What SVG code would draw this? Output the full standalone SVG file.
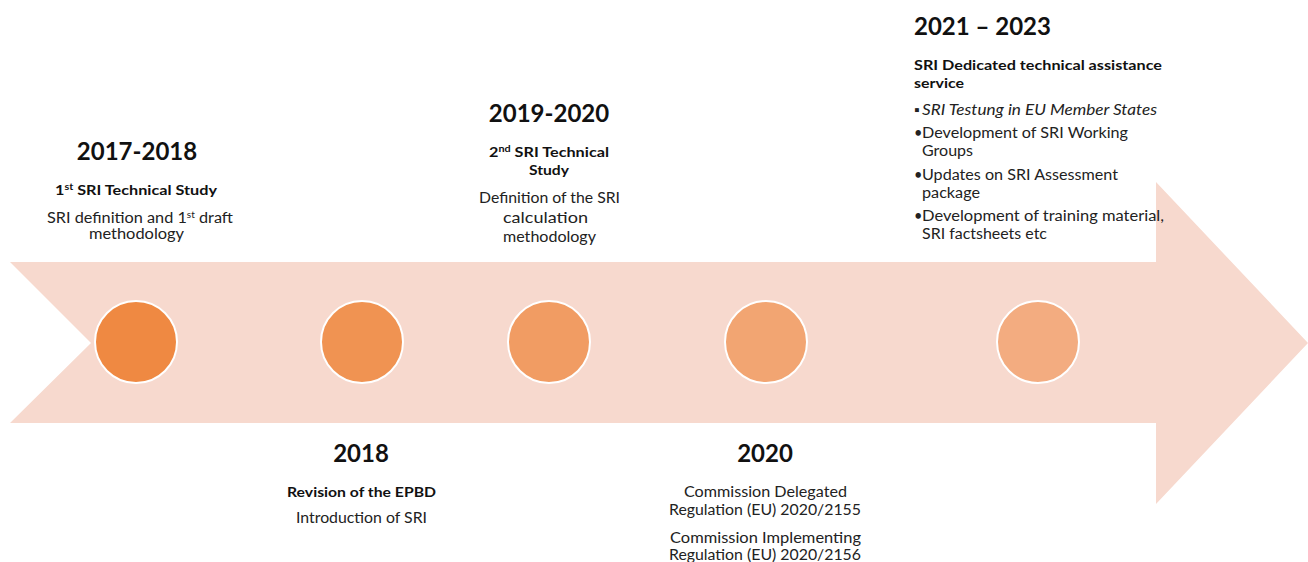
<svg xmlns="http://www.w3.org/2000/svg" width="1308" height="562" viewBox="0 0 1308 562">
  <style>
    text { font-family: Lato, "Liberation Sans", sans-serif; fill: #111; }
    .year { font-size: 24px; font-weight: 700; text-anchor: middle; }
    .head { font-size: 13.5px; font-weight: 700; }
    .body { font-size: 14.5px; fill: #222; }
    .mid { font-size: 15px; }
    .dot { stroke: #ffffff; stroke-width: 2; }
    .sup { font-size: 9px; }
  </style>

  <!-- timeline band with notched tail and arrow head -->
  <g id="timeline-arrow">
    <polygon points="10,262 1156,262 1156,182 1308,343 1156,504 1156,423 10,423 91,343" fill="#F7D9CE"/>
  </g>

  <!-- milestone dots, lightening towards the head -->
  <g id="milestones">
    <circle class="dot" cx="136" cy="342" r="41" fill="#EF8942"/>
    <circle class="dot" cx="362" cy="342" r="41" fill="#F09352"/>
    <circle class="dot" cx="549" cy="342" r="41" fill="#F19C63"/>
    <circle class="dot" cx="766" cy="342" r="41" fill="#F2A572"/>
    <circle class="dot" cx="1038" cy="342" r="41" fill="#F3AC80"/>
  </g>

  <g id="node-2017-2018">
    <text class="year" x="137" y="160">2017-2018</text>
    <text class="head" x="55" y="195" textLength="162" lengthAdjust="spacingAndGlyphs">1<tspan class="sup" dy="-5">st</tspan><tspan dy="5"> SRI Technical Study</tspan></text>
    <text class="body" x="47" y="223" textLength="186" lengthAdjust="spacingAndGlyphs">SRI definition and 1<tspan class="sup" dy="-5">st</tspan><tspan dy="5"> draft</tspan></text>
    <text class="body" x="89" y="239" textLength="95" lengthAdjust="spacingAndGlyphs">methodology</text>
  </g>

  <g id="node-2018">
    <text class="year" x="361" y="462">2018</text>
    <text class="head" x="287" y="497" textLength="149" lengthAdjust="spacingAndGlyphs">Revision of the EPBD</text>
    <text class="body" x="296" y="523" textLength="131" lengthAdjust="spacingAndGlyphs">Introduction of SRI</text>
  </g>

  <g id="node-2019-2020">
    <text class="year" x="549" y="122">2019-2020</text>
    <text class="head" x="489" y="157" textLength="120" lengthAdjust="spacingAndGlyphs">2<tspan class="sup" dy="-5">nd</tspan><tspan dy="5"> SRI Technical</tspan></text>
    <text class="head" x="529" y="175" textLength="40" lengthAdjust="spacingAndGlyphs">Study</text>
    <text class="body mid" x="479" y="203" textLength="141" lengthAdjust="spacingAndGlyphs">Definition of the SRI</text>
    <text class="body mid" x="503" y="223" textLength="85" lengthAdjust="spacingAndGlyphs">calculation</text>
    <text class="body mid" x="503" y="242" textLength="93" lengthAdjust="spacingAndGlyphs">methodology</text>
  </g>

  <g id="node-2020">
    <text class="year" x="765" y="462">2020</text>
    <text class="body" x="684" y="497" textLength="163" lengthAdjust="spacingAndGlyphs">Commission Delegated</text>
    <text class="body" x="669" y="515" textLength="192" lengthAdjust="spacingAndGlyphs">Regulation (EU) 2020/2155</text>
    <text class="body" x="670" y="543" textLength="191" lengthAdjust="spacingAndGlyphs">Commission Implementing</text>
    <text class="body" x="669" y="560" textLength="192" lengthAdjust="spacingAndGlyphs">Regulation (EU) 2020/2156</text>
  </g>

  <g id="node-2021-2023">
    <text class="year" x="914" y="35" style="text-anchor:start">2021 – 2023</text>
    <text class="head" x="914" y="70" textLength="248" lengthAdjust="spacingAndGlyphs">SRI Dedicated technical assistance</text>
    <text class="head" x="914" y="88" textLength="50" lengthAdjust="spacingAndGlyphs">service</text>
    <text class="body" x="914" y="115">▪</text>
    <text class="body" x="922" y="115" font-style="italic" textLength="235" lengthAdjust="spacingAndGlyphs">SRI Testung in EU Member States</text>
    <text class="body" x="914" y="138">•</text>
    <text class="body" x="922" y="138" textLength="206" lengthAdjust="spacingAndGlyphs">Development of SRI Working</text>
    <text class="body" x="922" y="156" textLength="51" lengthAdjust="spacingAndGlyphs">Groups</text>
    <text class="body" x="914" y="180">•</text>
    <text class="body" x="922" y="180" textLength="196" lengthAdjust="spacingAndGlyphs">Updates on SRI Assessment</text>
    <text class="body" x="922" y="198" textLength="58" lengthAdjust="spacingAndGlyphs">package</text>
    <text class="body" x="914" y="221">•</text>
    <text class="body" x="922" y="221" textLength="242" lengthAdjust="spacingAndGlyphs">Development of training material,</text>
    <text class="body" x="922" y="239" textLength="125" lengthAdjust="spacingAndGlyphs">SRI factsheets etc</text>
  </g>
</svg>
